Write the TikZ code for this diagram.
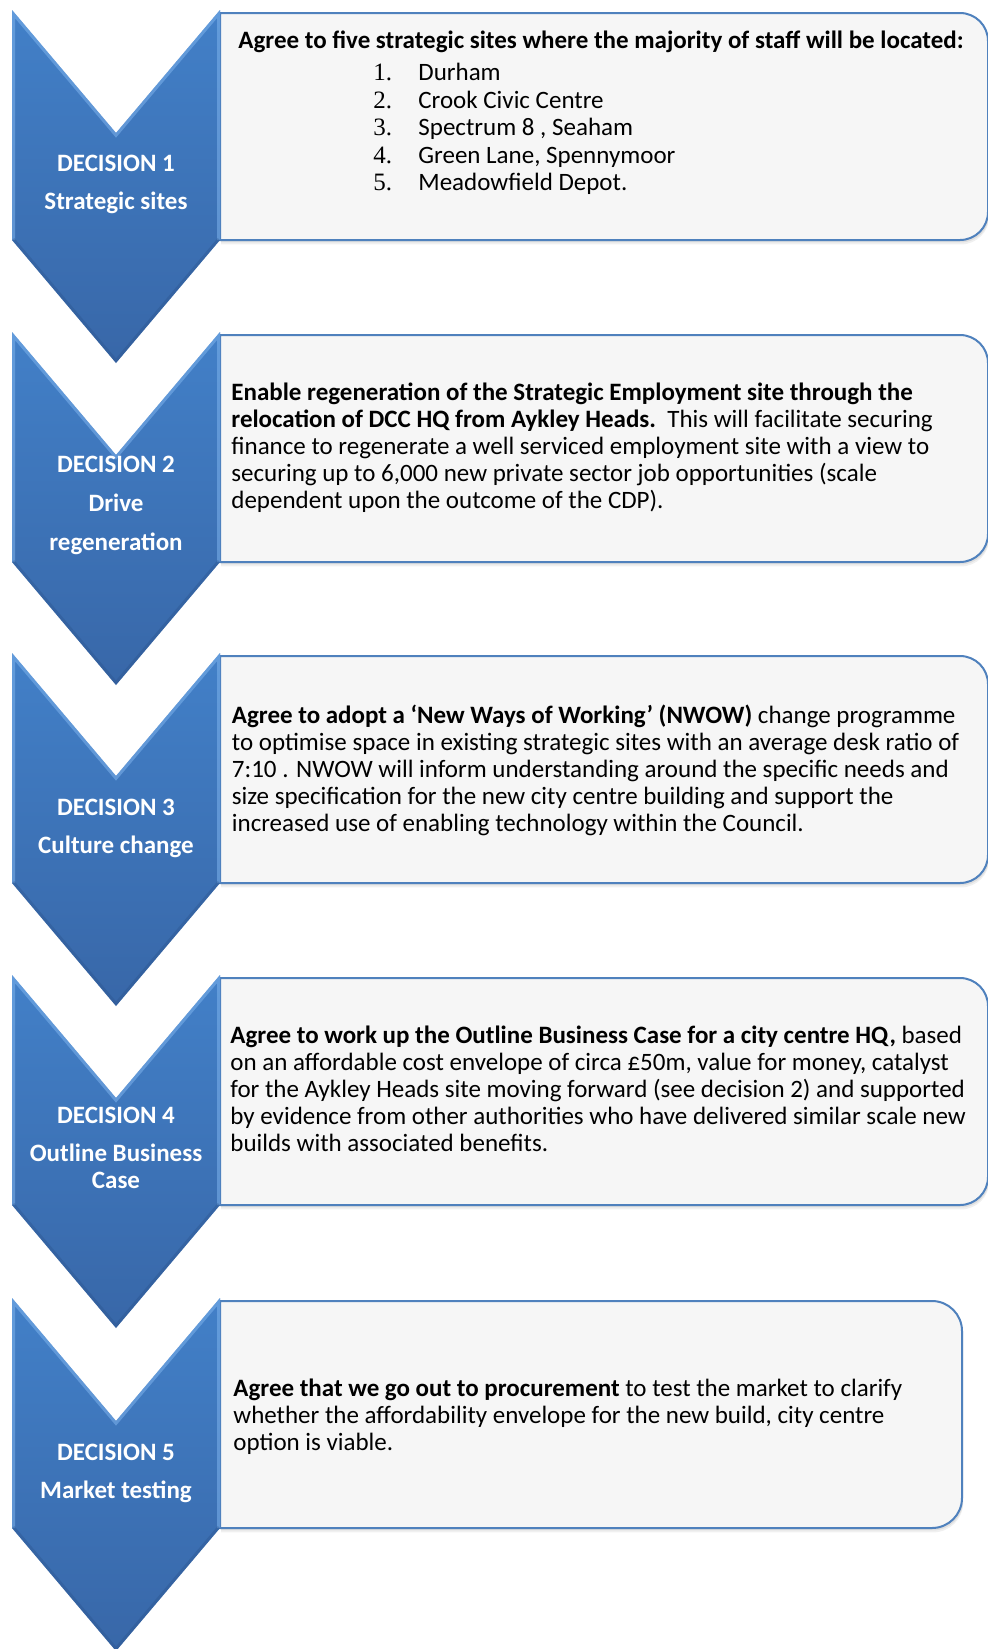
\documentclass[tikz,border=0pt]{standalone}
\usepackage{fontspec}
\setmainfont{Carlito}
\newfontfamily\numfont{Liberation Serif}
\definecolor{boxfill}{RGB}{246,246,246}
\definecolor{boxline}{RGB}{79,129,189}
\definecolor{chevtop}{RGB}{66,128,200}
\definecolor{chevbot}{RGB}{56,103,168}
\definecolor{chevhi}{RGB}{125,178,236}
\definecolor{chevdark}{RGB}{42,82,138}
\tikzset{
  boxshape/.style={fill=boxfill, draw=boxline, line width=1pt},
  bodytext/.style={anchor=base west, inner sep=0pt, text=black},
  chevtext/.style={anchor=base, inner sep=0pt, text=white, font=\bfseries\fontsize{12.5pt}{13.5pt}\selectfont},
}
% box: #1 top T, #2 right edge R, #3 radius r
\newcommand\mkbox[3]{%
  \foreach \s/\o in {1.2/0.07,2.2/0.06}{%
    \fill[black,opacity=\o,xshift=0.6pt,yshift=-\s pt]
      (220,#1+3) -- ({#2-#3},#1+3)
      .. controls ({#2-0.448*#3},#1+3) and (#2,{#1+3+0.448*#3}) .. (#2,{#1+3+#3})
      -- (#2,{#1+230-#3})
      .. controls (#2,{#1+230-0.448*#3}) and ({#2-0.448*#3},#1+230) .. ({#2-#3},#1+230)
      -- (220,#1+230) -- cycle;}
  \draw[boxshape]
      (220,#1+3) -- ({#2-#3},#1+3)
      .. controls ({#2-0.448*#3},#1+3) and (#2,{#1+3+0.448*#3}) .. (#2,{#1+3+#3})
      -- (#2,{#1+230-#3})
      .. controls (#2,{#1+230-0.448*#3}) and ({#2-0.448*#3},#1+230) .. ({#2-#3},#1+230)
      -- (220,#1+230) -- cycle;}
% chevron: #1 top T
\newcommand\mkchev[1]{%
  \shade[top color=chevtop, bottom color=chevbot]
    (12,#1) -- (116,#1+123) -- (220,#1) -- (220,#1+230) -- (116,#1+353) -- (12,#1+230) -- cycle;
  \begin{scope}
    \clip (12,#1) -- (116,#1+123) -- (220,#1) -- (220,#1+230) -- (116,#1+353) -- (12,#1+230) -- cycle;
    \draw[chevhi, line width=3pt, opacity=0.55, line join=miter]
      (12,#1+230) -- (12,#1) -- (116,#1+123) -- (220,#1) -- (220,#1+230);
    \draw[chevdark, line width=3pt, opacity=0.35, line join=miter]
      (220,#1+230) -- (116,#1+353) -- (12,#1+230);
  \end{scope}}
\begin{document}
\begin{tikzpicture}[x=0.5pt,y=-0.5pt]
\useasboundingbox (0,0) rectangle (987,1649);
\fill[white] (0,0) rectangle (987,1649);

% boxes
\mkbox{10}{988}{28}
\mkbox{332}{988}{28}
\mkbox{653}{988}{28}
\mkbox{975}{988}{28}
\mkbox{1298}{962}{30}

% chevrons
\mkchev{10}
\mkchev{332}
\mkchev{653}
\mkchev{975}
\mkchev{1298}

\begin{scope}[every node/.append style={font=\fontsize{12.5pt}{13.5pt}\selectfont}]
% chevron labels
\node[chevtext] (c1) at (116,171) {\parbox[t]{104pt}{\centering DECISION 1\\[5.5pt]Strategic sites}};
\node[chevtext] (c2) at (116,472.5) {\parbox[t]{104pt}{\centering DECISION 2\\[6pt]Drive\\[6pt]regeneration}};
\node[chevtext] (c3) at (116,815.5) {\parbox[t]{104pt}{\centering DECISION 3\\[5.5pt]Culture change}};
\node[chevtext] (c4) at (116,1123.5) {\parbox[t]{104pt}{\centering DECISION 4\\[5.5pt]Outline Business\\Case}};
\node[chevtext] (c5) at (116,1460) {\parbox[t]{104pt}{\centering DECISION 5\\[5.5pt]Market testing}};

% box 1
\node[bodytext] (t1) at (238,48) {\textbf{Agree to five strategic sites where the majority of staff will be located:}};
\node[bodytext] (l1) at (373,80.5) {\parbox[t]{300pt}{\fontsize{12.5pt}{13.75pt}\selectfont\raggedright
  \makebox[22.5pt][l]{\numfont 1.}Durham\\
  \makebox[22.5pt][l]{\numfont 2.}Crook Civic Centre\\
  \makebox[22.5pt][l]{\numfont 3.}Spectrum 8 , Seaham\\
  \makebox[22.5pt][l]{\numfont 4.}Green Lane, Spennymoor\\
  \makebox[22.5pt][l]{\numfont 5.}Meadowfield Depot.}};

% box 2
\node[bodytext] (t2) at (231,400.5) {\parbox[t]{420pt}{\raggedright
  \textbf{Enable regeneration of the Strategic Employment site through the}\\
  \textbf{relocation of DCC HQ from Aykley Heads.}\ \ This will facilitate securing\\
  finance to regenerate a well serviced employment site with a view to\\
  securing up to 6,000 new private sector job opportunities (scale\\
  dependent upon the outcome of the CDP).}};

% box 3
\node[bodytext] (t3) at (231.5,723.5) {\parbox[t]{420pt}{\raggedright
  \textbf{Agree to adopt a ‘New Ways of Working’ (NWOW)} change programme\\
  to optimise space in existing strategic sites with an average desk ratio of\\
  7:10 . NWOW will inform understanding around the specific needs and\\
  size specification for the new city centre building and support the\\
  increased use of enabling technology within the Council.}};

% box 4
\node[bodytext] (t4) at (230,1043.5) {\parbox[t]{420pt}{\raggedright
  \textbf{Agree to work up the Outline Business Case for a city centre HQ,} based\\
  on an affordable cost envelope of circa £50m, value for money, catalyst\\
  for the Aykley Heads site moving forward (see decision 2) and supported\\
  by evidence from other authorities who have delivered similar scale new\\
  builds with associated benefits.}};

% box 5
\node[bodytext] (t5) at (233,1396) {\parbox[t]{420pt}{\raggedright
  \textbf{Agree that we go out to procurement} to test the market to clarify\\
  whether the affordability envelope for the new build, city centre\\
  option is viable.}};
\end{scope}
\end{tikzpicture}
\end{document}
